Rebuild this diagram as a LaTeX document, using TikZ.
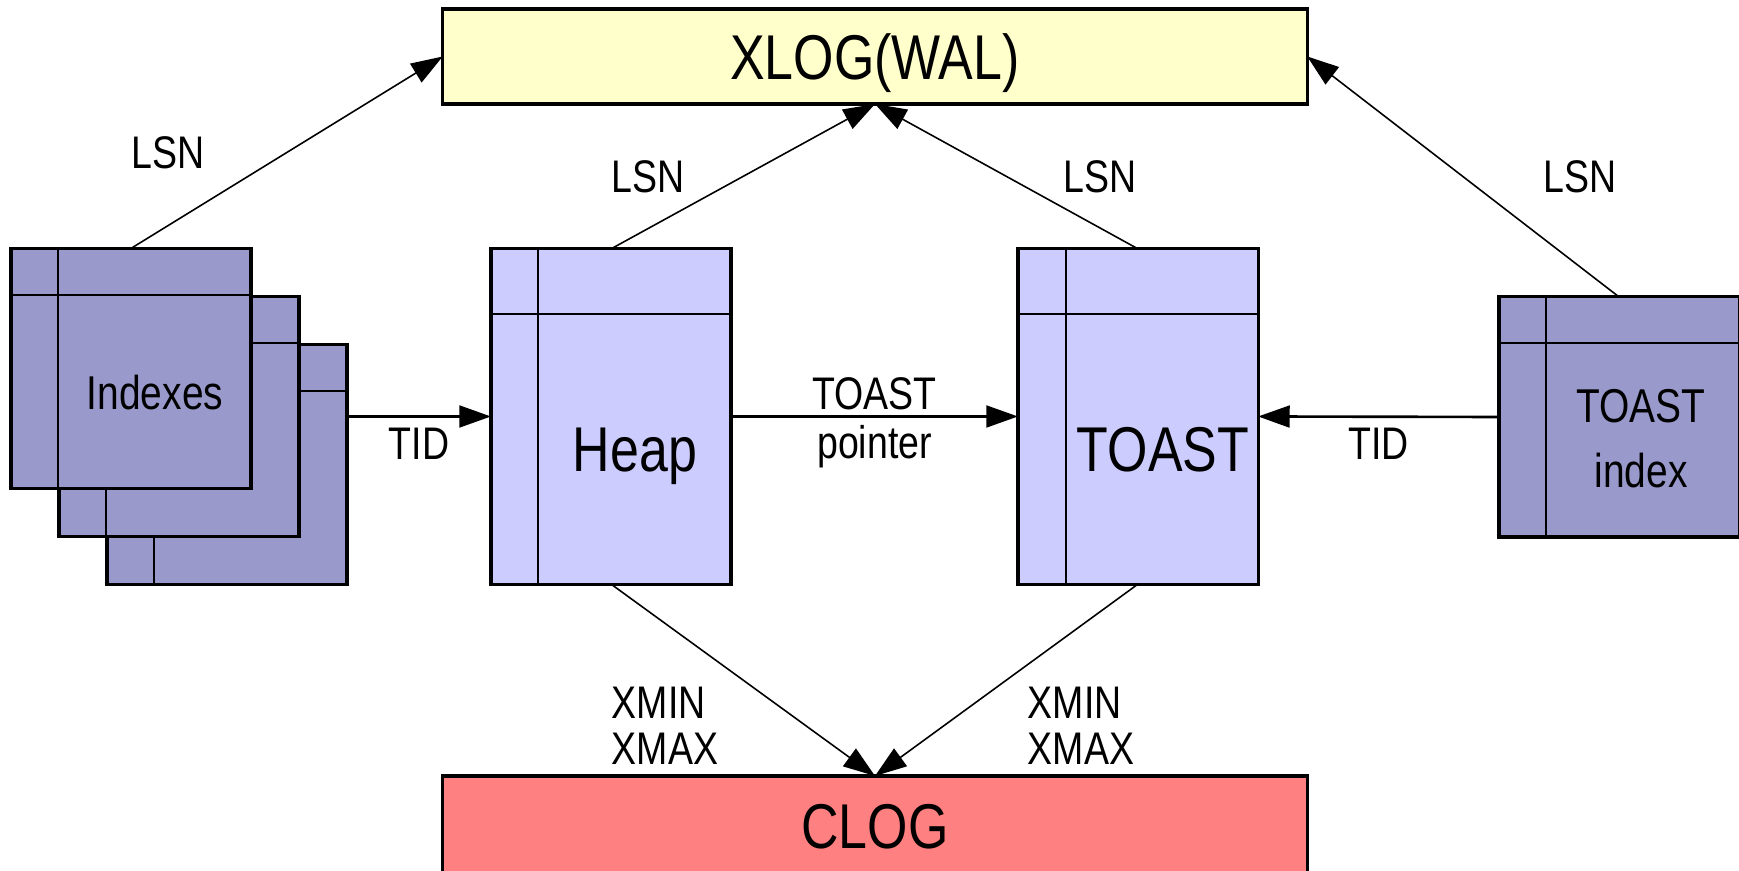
\documentclass[tikz,border=0pt]{standalone}
\usepackage{fontspec}
\setmainfont{Liberation Sans}[FakeStretch=0.82]
\usetikzlibrary{arrows.meta}

\definecolor{xlogcol}{HTML}{FFFFCC}
\definecolor{clogcol}{HTML}{FF8080}
\definecolor{heapcol}{HTML}{CCCCFF}
\definecolor{idxcol}{HTML}{9999CC}

\tikzset{
  logbox/.style={rectangle,draw,line width=0.9pt,inner sep=0pt,outer sep=0pt,
    minimum width=8.64cm,minimum height=0.95cm,text height=12.9pt,text depth=0pt,
    font=\fontsize{18}{18}\selectfont},
  pagebox/.style={rectangle,draw,line width=0.9pt,inner sep=0pt,outer sep=0pt,minimum width=2.4cm},
  divider/.style={line width=0.6pt},
  bigtxt/.style={anchor=base,font=\fontsize{18}{18}\selectfont},
  midtxt/.style={font=\fontsize{13.5}{18.5}\selectfont},
  lbl/.style={font=\fontsize{13}{13.1}\selectfont},
  thinarrow/.style={->,draw,line width=0.45pt},
  thickarrow/.style={->,draw,line width=0.75pt}
}

\begin{document}
\begin{tikzpicture}[x=0.01cm,y=-0.01cm,>={Triangle[length=9pt,width=6.2pt]}]
	\useasboundingbox (0,0) rectangle (1739,871);

	\node[logbox,fill=xlogcol] (xlog) at (875,56.5) {XLOG(WAL)};
	\node[logbox,fill=clogcol,minimum height=1cm] (clog) at (875,826) {CLOG};

	% index pages, back one first
	\foreach \k in {2,1,0} {
		\node[pagebox,fill=idxcol,minimum height=2.4cm] (idx\k) at (131+48*\k,368.5+48*\k) {};
		\draw[divider] ([yshift=-0.47cm]idx\k.north west) -- ([yshift=-0.47cm]idx\k.north east);
		\draw[divider] ([xshift=0.47cm]idx\k.north west) -- ([xshift=0.47cm]idx\k.south west);
	}
	\node[midtxt,anchor=base] (idxtxt) at (155,410) {Indexes};

	\node[pagebox,fill=heapcol,minimum height=3.35cm] (heap) at (611,416.5) {};
	\draw[divider] ([yshift=-0.65cm]heap.north west) -- ([yshift=-0.65cm]heap.north east);
	\draw[divider] ([xshift=0.47cm]heap.north west) -- ([xshift=0.47cm]heap.south west);
	\node[bigtxt] (heaptxt) at (635,472) {Heap};

	\node[pagebox,fill=heapcol,minimum height=3.35cm] (toast) at (1138,416.5) {};
	\draw[divider] ([yshift=-0.65cm]toast.north west) -- ([yshift=-0.65cm]toast.north east);
	\draw[divider] ([xshift=0.48cm]toast.north west) -- ([xshift=0.48cm]toast.south west);
	\node[bigtxt] (toasttxt) at (1163,472) {TOAST};

	\node[pagebox,fill=idxcol,minimum height=2.4cm] (tidx) at (1619,417) {};
	\draw[divider] ([yshift=-0.46cm]tidx.north west) -- ([yshift=-0.46cm]tidx.north east);
	\draw[divider] ([xshift=0.47cm]tidx.north west) -- ([xshift=0.47cm]tidx.south west);
	\node[midtxt,align=center] (tidxtxt) at (1641,438.5) {TOAST\\index};

	\path[thinarrow] (idx0.north) -- node[lbl,midway,xshift=-1.185cm] (lsn1) {LSN} (xlog.west);
	\path[thinarrow] (heap.north) -- node[lbl,midway,xshift=-0.95cm] (lsn2) {LSN} (xlog.south);
	\path[thinarrow] (toast.north) -- node[lbl,midway,xshift=0.935cm] (lsn3) {LSN} (xlog.south);
	\path[thinarrow] (tidx.north) -- node[lbl,midway,xshift=1.17cm] (lsn4) {LSN} (xlog.east);

	\path[thickarrow] (idx2.east |- heap.west) -- node[lbl,midway,yshift=-0.27cm] (tid1) {TID} (heap.west);
	\path[thickarrow] (heap.east) -- node[lbl,midway,align=center,yshift=-0.065cm,font=\fontsize{13}{14}\selectfont] (ptr) {TOAST\\pointer} (toast.west);
	\path[thickarrow] (tidx.west) -- node[lbl,midway,yshift=-0.27cm] (tid2) {TID} (toast.east);

	\path[thinarrow] (heap.south) -- node[lbl,midway,align=left,xshift=-0.78cm,yshift=-0.46cm] (xmm1) {XMIN\\XMAX} (clog.north);
	\path[thinarrow] (toast.south) -- node[lbl,midway,align=left,xshift=0.745cm,yshift=-0.46cm] (xmm2) {XMIN\\XMAX} (clog.north);
\end{tikzpicture}
\end{document}
